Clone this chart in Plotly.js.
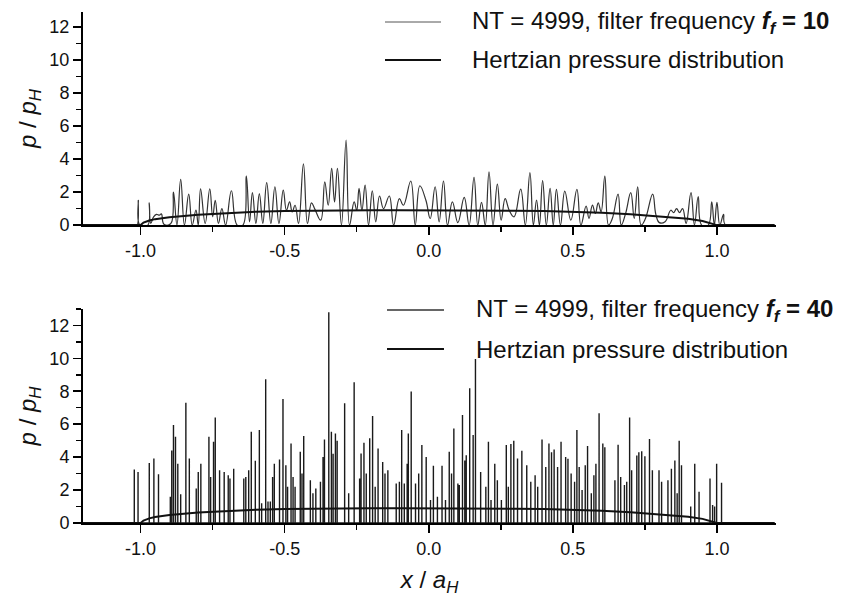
<!DOCTYPE html>
<html>
<head>
<meta charset="utf-8">
<script src="https://cdn.plot.ly/plotly-3.0.1.min.js"></script>
<style>html,body{margin:0;padding:0;background:#fff;}#chart{width:841px;height:599px;}</style>
</head>
<body>
<div id="chart"></div>
<script>
// ---- Top panel: filtered pressure, f_f = 10 (peaks and troughs)
const topX = [-1.2,-1.02,-1.012,-1.008,-1.003,-0.975,-0.970,-0.965,-0.955,-0.945,-0.935,-0.928,-0.919,-0.895,-0.886,-0.874,-0.861,-0.848,-0.833,-0.821,-0.808,-0.800,-0.792,-0.776,-0.760,-0.750,-0.741,-0.730,-0.718,-0.705,-0.685,-0.665,-0.645,-0.633,-0.622,-0.612,-0.600,-0.588,-0.576,-0.5625,-0.548,-0.534,-0.520,-0.505,-0.494,-0.483,-0.474,-0.464,-0.452,-0.435,-0.421,-0.407,-0.395,-0.375,-0.361,-0.349,-0.337,-0.327,-0.317,-0.303,-0.287,-0.275,-0.259,-0.250,-0.242,-0.232,-0.221,-0.209,-0.196,-0.184,-0.171,-0.157,-0.137,-0.122,-0.102,-0.088,-0.0625,-0.047,-0.031,-0.010,0.005,0.022,0.036,0.051,0.065,0.082,0.101,0.123,0.140,0.157,0.170,0.183,0.196,0.209,0.223,0.238,0.251,0.265,0.279,0.296,0.319,0.335,0.351,0.363,0.374,0.384,0.395,0.408,0.421,0.432,0.443,0.457,0.472,0.493,0.514,0.528,0.546,0.556,0.568,0.578,0.588,0.598,0.611,0.624,0.637,0.657,0.668,0.683,0.701,0.713,0.725,0.737,0.752,0.777,0.788,0.800,0.820,0.840,0.850,0.860,0.870,0.881,0.893,0.910,0.922,0.935,0.947,0.970,0.982,0.991,1.000,1.010,1.023,1.030,1.2];
const topY = [0,0,0,1.5,0,0,1.35,0.1,0.5,0.65,0.6,0.68,0.05,0.1,2.0,0,2.77,0,1.88,0,0.9,0,2.2,0.1,2.2,0.5,1.5,0.1,1.0,0,2.08,0,0,2.97,0.2,1.96,0.1,1.9,0.1,2.57,0.1,2.32,0.1,2.12,0.9,1.41,0.8,1.2,0.1,3.7,0.1,1.35,0.95,0.3,2.62,1.2,3.43,1.4,3.43,0,5.15,0,1.4,0.9,2.22,0.9,2.42,0,2.08,0.2,1.76,1.0,1.76,0,1.6,1.2,2.67,0,2.38,1.5,0.4,2.32,0.2,2.67,0,1.41,0.15,1.68,0,2.89,0,1.37,0,3.23,0,2.48,0.3,1.6,0.9,0.5,2.18,0,3.17,0,1.52,0,2.69,0,2.22,0,2.16,0,2.06,0.3,2.16,0,1.15,0.4,1.21,0.7,1.35,0.8,2.97,0,0.4,1.88,0,0.7,1.96,0.4,2.32,0,0.4,1.88,0.65,0.15,0.2,0.9,0.75,1.0,0.75,1.0,0.1,1.96,0,1.72,0,0,1.41,0,1.37,0,0.65,0,0];

// ---- Bottom panel: filtered pressure, f_f = 40 (spike positions and heights)
const spikeX = [-1.022,-1.009,-0.970,-0.954,-0.938,-0.897,-0.892,-0.886,-0.879,-0.871,-0.861,-0.843,-0.831,-0.807,-0.800,-0.791,-0.763,-0.757,-0.747,-0.741,-0.726,-0.710,-0.696,-0.690,-0.677,-0.642,-0.635,-0.625,-0.616,-0.602,-0.588,-0.580,-0.566,-0.558,-0.550,-0.542,-0.536,-0.518,-0.506,-0.496,-0.490,-0.478,-0.471,-0.464,-0.446,-0.440,-0.434,-0.411,-0.402,-0.392,-0.376,-0.367,-0.362,-0.347,-0.338,-0.332,-0.324,-0.318,-0.292,-0.278,-0.259,-0.240,-0.235,-0.225,-0.217,-0.205,-0.195,-0.186,-0.176,-0.160,-0.152,-0.142,-0.113,-0.102,-0.094,-0.085,-0.075,-0.071,-0.061,-0.046,-0.035,-0.024,-0.009,0.006,0.016,0.030,0.046,0.058,0.071,0.079,0.087,0.101,0.106,0.117,0.125,0.130,0.142,0.154,0.162,0.180,0.198,0.207,0.216,0.229,0.238,0.252,0.269,0.276,0.285,0.295,0.308,0.323,0.340,0.354,0.369,0.378,0.393,0.406,0.417,0.426,0.435,0.447,0.459,0.475,0.483,0.494,0.506,0.514,0.522,0.532,0.543,0.551,0.564,0.573,0.580,0.591,0.604,0.611,0.646,0.657,0.666,0.679,0.687,0.697,0.704,0.722,0.729,0.739,0.750,0.766,0.776,0.799,0.808,0.830,0.842,0.854,0.862,0.869,0.877,0.909,0.923,0.938,0.976,0.985,0.992,0.999,1.016];
const spikeH = [3.25,3.1,3.65,3.92,2.96,1.6,4.4,5.95,5.24,3.6,1.75,7.3,3.92,2.1,3.1,3.6,5.24,2.8,4.93,6.41,3.2,3.1,2.9,2.7,3.3,2.7,2.8,3.2,5.54,3.78,5.64,1.2,8.73,1.3,1.3,2.8,3.6,3.86,7.53,3.5,2.2,4.83,2.8,2.2,4.32,3.0,5.28,2.6,1.8,2.1,2.5,4.0,5.07,12.8,5.54,4.2,5.44,5.0,7.27,1.8,8.55,2.7,4.22,4.87,3.0,5.14,6.5,2.2,4.53,3.71,3.0,3.2,2.4,2.5,5.64,2.4,3.6,5.44,7.98,2.4,3.0,4.73,4.0,1.4,3.47,1.6,3.47,1.4,4.32,3.0,5.74,2.4,2.3,6.56,3.8,4.12,8.18,5.34,9.95,3.1,2.2,4.93,1.4,3.6,2.6,1.4,4.73,2.2,4.79,4.99,3.92,4.38,3.5,2.5,2.9,2.2,5.07,3.4,4.83,4.3,4.47,3.4,4.93,4.0,3.9,3.0,2.5,5.64,3.4,2.0,3.5,4.67,1.8,2.9,3.6,6.66,4.83,4.6,2.6,4.75,2.8,2.3,2.5,6.4,3.2,4.1,4.3,4.36,4.05,5.1,3.2,3.2,2.5,2.6,3.3,3.8,1.8,5.0,3.5,1.0,3.6,1.9,2.7,1.1,1.0,3.6,2.45];
const baseX = [-1.2, 1.2];
const baseY = [0, 0];

// ---- Hertzian pressure distribution
const hertzX = [-1.2,-1.0,-0.99,-0.97,-0.95,-0.9,-0.8,-0.7,-0.6,-0.5,-0.4,-0.3,-0.2,-0.1,0.0,0.1,0.2,0.3,0.4,0.5,0.6,0.7,0.8,0.9,0.95,0.98,1.0,1.2];
const hertzY = [0,0,0.15,0.28,0.36,0.48,0.63,0.74,0.81,0.85,0.88,0.9,0.9,0.9,0.9,0.9,0.89,0.87,0.85,0.81,0.75,0.66,0.54,0.38,0.25,0.12,0,0];

// ---- Axis ticks and texts
const xTickVals = [-1.0,-0.5,0.0,0.5,1.0];
const xTickText = ['-1.0','-0.5','0.0','0.5','1.0'];
const xMinorVals = [-0.75,-0.25,0.25,0.75];
const yTickVals = [0,2,4,6,8,10,12];
const yTickText = ['0','2','4','6','8','10','12'];
const legendTop = ['NT = 4999, filter frequency <b><i>f</i><sub><i>f</i></sub> = 10</b>', 'Hertzian pressure distribution'];
const legendBottom = ['NT = 4999, filter frequency <b><i>f</i><sub><i>f</i></sub> = 40</b>', 'Hertzian pressure distribution'];

// build spike polyline from the spike arrays
const bx = [], by = [];
for (let i = 0; i < spikeX.length; i++) {
  bx.push(spikeX[i], spikeX[i], spikeX[i]);
  by.push(0, spikeH[i], 0);
}

const FONT = '"Liberation Sans", Arial, Helvetica, sans-serif';

const traces = [
  {x: topX, y: topY, type: 'scatter', mode: 'lines', xaxis: 'x', yaxis: 'y',
   line: {color: '#333', width: 1.2, shape: 'spline', smoothing: 1.2}, showlegend: false},
  {x: hertzX, y: hertzY, type: 'scatter', mode: 'lines', xaxis: 'x', yaxis: 'y',
   line: {color: '#111', width: 2}, showlegend: false},
  {x: bx.concat(baseX), y: by.concat(baseY), type: 'scatter', mode: 'lines', xaxis: 'x2', yaxis: 'y2',
   line: {color: '#1a1a1a', width: 1.4}, showlegend: false},
  {x: hertzX, y: hertzY, type: 'scatter', mode: 'lines', xaxis: 'x2', yaxis: 'y2',
   line: {color: '#111', width: 2}, showlegend: false}
];

function xAxis(anchor) {
  return {
    anchor: anchor, domain: [0, 1], range: [-1.2, 1.205],
    tickmode: 'array', tickvals: xTickVals, ticktext: xTickText,
    ticks: 'outside', ticklen: 8, tickwidth: 1.5, tickcolor: '#000',
    minor: {tickmode: 'array', tickvals: xMinorVals, ticks: 'outside', ticklen: 5, tickwidth: 1.5, tickcolor: '#000', showgrid: false},
    showline: true, linecolor: '#000', linewidth: 2, mirror: false,
    showgrid: false, zeroline: false,
    tickfont: {family: FONT, size: 18, color: '#111'}
  };
}
function yAxis(anchor, dom, top) {
  return {
    anchor: anchor, domain: dom, range: [0, top],
    tickmode: 'array', tickvals: yTickVals, ticktext: yTickText,
    ticks: 'outside', ticklen: 8, tickwidth: 1.5, tickcolor: '#000',
    minor: {dtick: 1, tick0: 0, ticks: 'outside', ticklen: 5, tickwidth: 1.5, tickcolor: '#000', showgrid: false},
    showline: true, linecolor: '#000', linewidth: 2, mirror: false,
    showgrid: false, zeroline: false,
    tickfont: {family: FONT, size: 18, color: '#111'},
    title: {text: '<i>p</i> / <i>p</i><sub><i>H</i></sub>', font: {family: FONT, size: 24, color: '#111'}, standoff: 6}
  };
}

const layout = {
  width: 841, height: 599,
  margin: {l: 83, r: 65, t: 12, b: 76},
  paper_bgcolor: '#fff', plot_bgcolor: '#fff',
  font: {family: FONT, color: '#111'},
  showlegend: false,
  xaxis: xAxis('y'),
  yaxis: yAxis('x', [0.583, 1], 12.9),
  xaxis2: Object.assign(xAxis('y2'), {title: {text: '<i>x</i> / <i>a</i><sub><i>H</i></sub>', font: {family: FONT, size: 24, color: '#111'}, standoff: 14}}),
  yaxis2: yAxis('x2', [0, 0.419], 13.0),
  shapes: [
    {type: 'line', xref: 'paper', yref: 'paper', x0: 0.4358, x1: 0.5166, y0: 0.9804, y1: 0.9804, line: {color: '#555', width: 1}},
    {type: 'line', xref: 'paper', yref: 'paper', x0: 0.4358, x1: 0.5166, y0: 0.9061, y1: 0.9061, line: {color: '#111', width: 2}},
    {type: 'line', xref: 'paper', yref: 'paper', x0: 0.4387, x1: 0.5209, y0: 0.4168, y1: 0.4168, line: {color: '#333', width: 1.3}},
    {type: 'line', xref: 'paper', yref: 'paper', x0: 0.4387, x1: 0.5209, y0: 0.3405, y1: 0.3405, line: {color: '#111', width: 2}}
  ],
  annotations: [
    {xref: 'paper', yref: 'paper', x: 0.5584, y: 0.9804, xanchor: 'left', yanchor: 'middle', showarrow: false, text: legendTop[0], font: {family: FONT, size: 24, color: '#111'}},
    {xref: 'paper', yref: 'paper', x: 0.5584, y: 0.9061, xanchor: 'left', yanchor: 'middle', showarrow: false, text: legendTop[1], font: {family: FONT, size: 24, color: '#111'}},
    {xref: 'paper', yref: 'paper', x: 0.5642, y: 0.4168, xanchor: 'left', yanchor: 'middle', showarrow: false, text: legendBottom[0], font: {family: FONT, size: 24, color: '#111'}},
    {xref: 'paper', yref: 'paper', x: 0.5642, y: 0.3405, xanchor: 'left', yanchor: 'middle', showarrow: false, text: legendBottom[1], font: {family: FONT, size: 24, color: '#111'}}
  ]
};

Plotly.newPlot('chart', traces, layout, {staticPlot: true, displayModeBar: false});
</script>
</body>
</html>
